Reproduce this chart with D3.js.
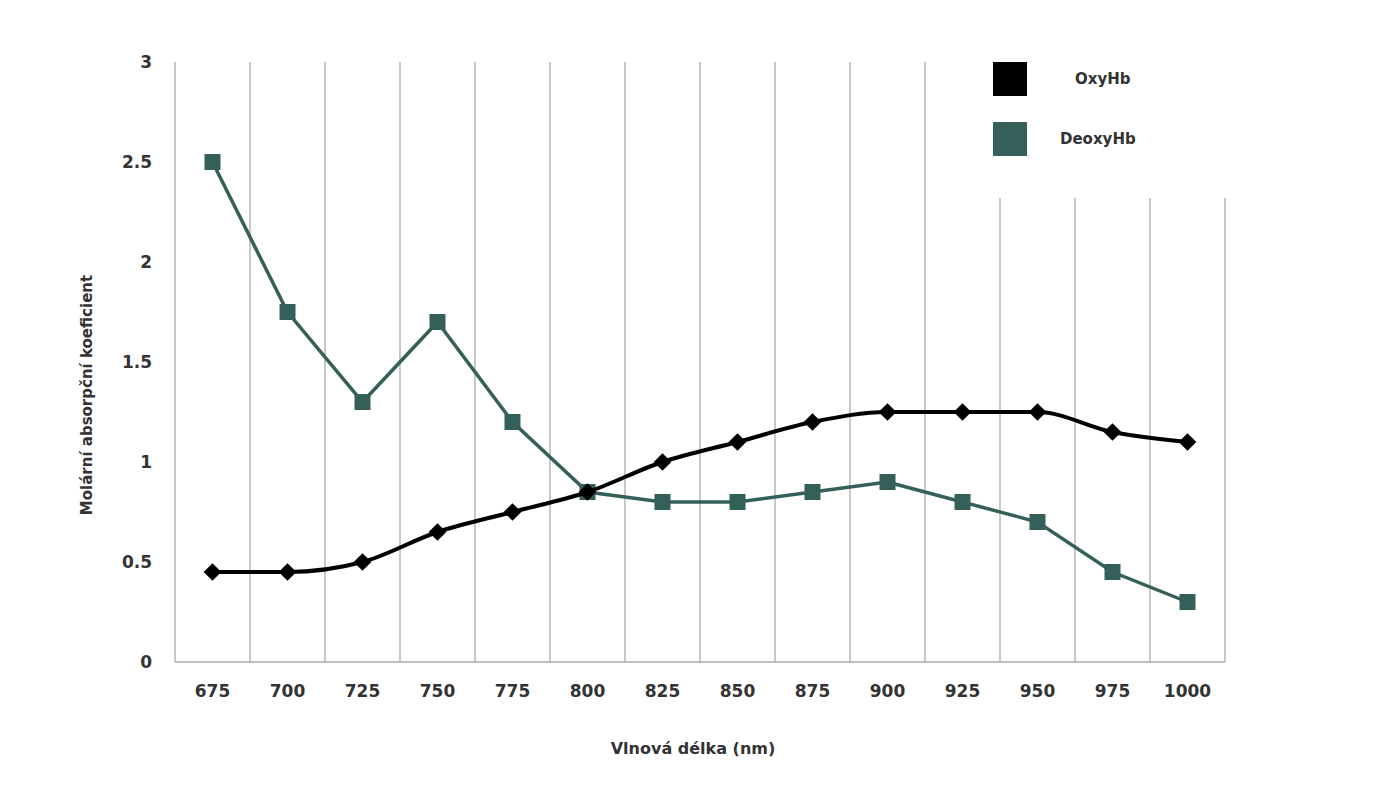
<!DOCTYPE html>
<html><head><meta charset="utf-8">
<script src="https://cdn.jsdelivr.net/npm/d3@7"></script>
<style>body{margin:0;background:#fff}</style>
</head><body>
<svg id="chart" width="1390" height="800"></svg>
<script>
const wavelengths = [675, 700, 725, 750, 775, 800, 825, 850, 875, 900, 925, 950, 975, 1000];
const oxyHb = [0.45, 0.45, 0.5, 0.65, 0.75, 0.85, 1.0, 1.1, 1.2, 1.25, 1.25, 1.25, 1.15, 1.1];
const deoxyHb = [2.5, 1.75, 1.3, 1.7, 1.2, 0.85, 0.8, 0.8, 0.85, 0.9, 0.8, 0.7, 0.45, 0.3];
const yTicks = [0, 0.5, 1, 1.5, 2, 2.5, 3];

const teal = "#35605a";
const svg = d3.select("#chart");
const font = "'DejaVu Sans', sans-serif";

const x = d3.scaleBand().domain(wavelengths).range([175, 1225]);
const y = d3.scaleLinear().domain([0, 3]).range([662, 62]);

// vertical grid at band edges
const edges = wavelengths.map(w => x(w)).concat([x.range()[1]]);
svg.selectAll(".grid").data(edges).enter().append("line")
    .attr("x1", d => d).attr("x2", d => d)
    .attr("y1", y(3)).attr("y2", y(0))
    .attr("stroke", "#aaa").attr("stroke-width", 1.3);

// legend background hides top of grid
svg.append("rect").attr("x", 975).attr("y", 40).attr("width", 260).attr("height", 158).attr("fill", "#fff");

svg.append("line").attr("x1", 175).attr("x2", 1225).attr("y1", y(0)).attr("y2", y(0))
    .attr("stroke", "#aaa").attr("stroke-width", 1.5);

// axes labels
svg.selectAll(".xt").data(wavelengths).enter().append("text")
    .attr("x", d => x(d) + x.bandwidth() / 2).attr("y", 697)
    .attr("text-anchor", "middle").attr("font-family", font).attr("font-weight", "bold")
    .attr("font-size", 17).attr("fill", "#333").text(d => d);

svg.selectAll(".yt").data(yTicks).enter().append("text")
    .attr("x", 152).attr("y", d => y(d) + 6)
    .attr("text-anchor", "end").attr("font-family", font).attr("font-weight", "bold")
    .attr("font-size", 17).attr("fill", "#333").text(d => d);

svg.append("text").attr("x", 693).attr("y", 754).attr("text-anchor", "middle")
    .attr("font-family", font).attr("font-weight", "bold").attr("font-size", 16).attr("fill", "#333")
    .text("Vlnová délka (nm)");

svg.append("text").attr("transform", "translate(92,395) rotate(-90)").attr("text-anchor", "middle")
    .attr("font-family", font).attr("font-weight", "bold").attr("font-size", 15).attr("fill", "#333")
    .text("Molární absorpční koeficient");

const cx = (d, i) => x(wavelengths[i]) + x.bandwidth() / 2;

// DeoxyHb
svg.append("path").datum(deoxyHb)
    .attr("fill", "none").attr("stroke", teal).attr("stroke-width", 3.5)
    .attr("d", d3.line().x(cx).y(d => y(d)));
svg.selectAll(".sq").data(deoxyHb).enter().append("rect")
    .attr("x", (d, i) => cx(d, i) - 8).attr("y", d => y(d) - 8)
    .attr("width", 16).attr("height", 16).attr("fill", teal);

// OxyHb
svg.append("path").datum(oxyHb)
    .attr("fill", "none").attr("stroke", "#000").attr("stroke-width", 4)
    .attr("d", d3.line().x(cx).y(d => y(d)).curve(d3.curveMonotoneX));
svg.selectAll(".dm").data(oxyHb).enter().append("path")
    .attr("transform", (d, i) => `translate(${cx(d, i)},${y(d)})`)
    .attr("d", d3.symbol(d3.symbolDiamond2, 200)).attr("fill", "#000");

// legend
const legend = [["OxyHb", "#000", 62, 1075], ["DeoxyHb", teal, 122, 1060]];
legend.forEach(([name, c, top, tx]) => {
    svg.append("rect").attr("x", 993).attr("y", top).attr("width", 34).attr("height", 34).attr("fill", c);
    svg.append("text").attr("x", tx).attr("y", top + 22).attr("font-family", font)
        .attr("font-weight", "bold").attr("font-size", 15).attr("fill", "#333").text(name);
});
</script>
</body></html>
